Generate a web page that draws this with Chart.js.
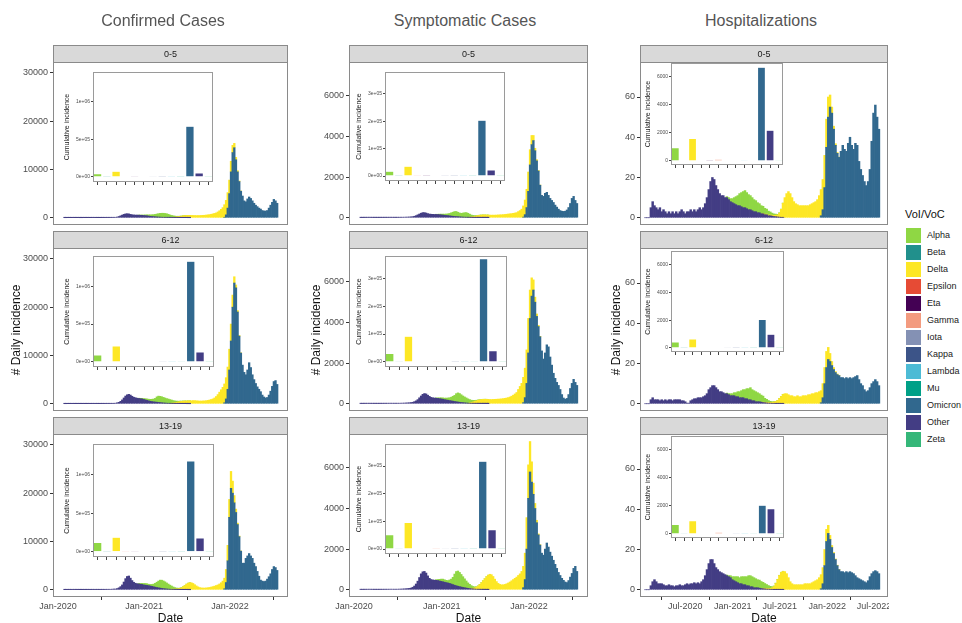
<!DOCTYPE html>
<html>
<head>
<meta charset="utf-8">
<script src="https://cdn.jsdelivr.net/npm/chart.js@4.4.1/dist/chart.umd.min.js"></script>
<style>
  body { margin: 0; background: #fff; font-family: "Liberation Sans", Arial, sans-serif; }
  #page { position: relative; width: 962px; height: 623px; overflow: hidden; }
  canvas { position: absolute; }
  .lbl { position: absolute; white-space: nowrap; }
</style>
</head>
<body>
<div id="page"></div>
<script>
// variants and colours (legend order)
const variants = ["Alpha", "Beta", "Delta", "Epsilon", "Eta", "Gamma", "Iota", "Kappa", "Lambda", "Mu", "Omicron", "Other", "Zeta"];
const variantColors = ["#8FD744", "#21908C", "#FDE725", "#E64B35", "#440154", "#F39B7F", "#8491B4", "#3C5488", "#4DBBD5", "#00A087", "#31688E", "#433D84", "#35B779"];

// weekly values; week 0 starts 28 days after 2020-01-01
const firstWeekDay = 28;
const otherStart = 0, alphaStart = 45, deltaStart = 65, omicronStart = 97;

const ageGroups = ["0-5", "6-12", "13-19"];
const columnTitles = ["Confirmed Cases", "Symptomatic Cases", "Hospitalizations"];

// x ticks (days since 2020-01-01)
const casesTickDays = [0, 366, 731];
const casesTickLabels = ["Jan-2020", "Jan-2021", "Jan-2022"];
const hospTickDays = [182, 366, 547, 731, 912];
const hospTickLabels = ["Jul-2020", "Jan-2021", "Jul-2021", "Jan-2022", "Jul-2022"];

// y ticks
const confTicks = [0, 10000, 20000, 30000];
const sympTicks = [0, 2000, 4000, 6000];
const hospTicks = [0, 20, 40, 60];
const confInsetTicks = [0, 500000, 1000000];
const confInsetLabels = ["0e+00", "5e+05", "1e+06"];
const sympInsetTicks = [0, 100000, 200000, 300000];
const sympInsetLabels = ["0e+00", "1e+05", "2e+05", "3e+05"];
const hospInsetTicks = [0, 2000, 4000, 6000];
const hospInsetLabels = ["0", "2000", "4000", "6000"];

// ---- Confirmed cases ----
const confOther05 = [10,10,15,20,20,25,20,15,15,10,10,10,15,15,20,20,25,30,30,25,20,20,25,30,35,40,45,50,60,70,80,
  100,150,250,400,550,700,800,830,800,700,620,580,560,550,540,520,500,470,440,400,350,300,260,230,200,170,150,130,110,100,90,80,70,60,50,45,40,35,30,25,20,18,15,12,10,8];
const confAlpha05 = [20,40,70,100,150,200,250,300,350,420,500,600,700,780,820,830,800,750,650,520,400,300,200,130,80,50,30,20,12,8,5,3];
const confDelta05 = [30,60,100,150,200,260,320,380,420,450,470,480,480,470,460,450,450,460,480,500,520,560,600,650,720,800,900,1000,1200,1450,1750,2100,2600,3000,3200,2800,2200,1500,900,500,250,120,50];
const confOmicron05 = [100,600,2000,5000,9500,13500,14500,12000,9500,7500,5500,4500,3500,3300,3900,4300,4000,3500,3000,2600,2300,2000,1800,1500,1400,1400,1500,2000,2600,3200,3800,3500,3000];

const confOther612 = [10,10,15,20,25,25,20,20,15,15,15,15,20,20,20,25,25,30,30,30,25,25,30,35,40,45,50,55,60,70,80,
  120,200,300,500,800,1200,1600,1850,1950,1800,1550,1350,1250,1150,1100,1050,1000,900,800,700,600,520,450,400,360,320,280,240,200,170,140,120,100,85,70,60,50,42,35,28,22,18,14,10,8,6];
const confAlpha612 = [50,80,120,180,250,300,350,400,480,580,750,1100,1300,1300,1250,1150,1050,950,880,780,650,500,350,250,150,100,60,40,25,15,10,5];
const confDelta612 = [50,100,180,260,340,420,480,520,550,560,580,600,620,650,650,620,580,560,560,580,600,640,700,780,880,1000,1200,1500,1900,2400,2900,3400,3900,4400,4600,4300,3500,2500,1300,600,300,150,50];
const confOmicron612 = [200,1000,3000,7000,13000,20000,25000,24000,19000,14000,10500,8000,6500,6000,7000,8500,7500,6000,5000,4200,3500,3000,2500,1800,1400,1200,1300,1800,2600,3600,4600,4800,4000];

const confOther1319 = [20,25,30,35,40,45,40,35,30,25,25,25,30,30,35,35,40,45,50,50,45,45,50,55,60,70,80,90,100,120,150,
  150,250,400,650,1000,1600,2300,2750,2850,2400,1900,1550,1350,1250,1200,1150,1100,1000,950,900,850,780,700,620,540,460,400,340,280,230,190,160,130,110,90,75,60,50,40,32,25,20,15,12,9,6];
const confAlpha1319 = [100,150,220,300,350,350,300,320,400,550,800,1100,1400,1650,1700,1600,1450,1250,1050,850,650,450,300,180,100,60,35,20,12,8,5,3];
const confDelta1319 = [30,50,80,120,180,260,400,600,850,1150,1350,1450,1450,1300,1050,800,600,450,380,350,350,380,420,480,560,650,750,880,1000,1200,1450,1800,2200,2700,3200,3700,3500,2500,1500,700,300,120,40];
const confOmicron1319 = [200,1500,6000,15000,21000,20000,18000,16000,13500,11000,8000,5500,5500,6500,7000,7500,7000,6500,5500,4800,3800,2800,2000,1800,1700,1800,2200,2700,3300,4200,4800,4600,4000];

// ---- Symptomatic cases ----
const sympOther05 = [5,5,8,10,12,15,12,10,8,8,8,8,10,10,10,12,12,15,15,15,12,12,15,18,20,22,25,28,30,35,40,
  50,70,100,140,180,220,250,250,230,200,180,170,165,160,160,155,150,140,130,120,110,100,90,80,70,62,55,48,42,36,30,26,22,18,15,12,10,8,7,6,5,4,3,3,2,2];
const sympAlpha05 = [10,15,25,35,45,55,70,90,120,160,200,240,250,220,190,180,200,220,230,200,150,100,60,35,20,12,8,5,3,2,1,1];
const sympDelta05 = [10,20,40,60,80,100,115,125,130,130,130,130,125,125,125,125,130,135,140,145,150,160,170,180,190,200,215,230,250,300,350,420,550,720,900,950,750,450,250,120,60,30,10];
const sympOmicron05 = [30,150,500,1300,2600,3600,3800,3300,2800,2300,1600,1100,1050,1200,1250,1100,950,850,750,620,520,420,350,320,310,320,380,500,700,950,1050,850,700];

const sympOther612 = [8,8,10,12,15,15,12,12,10,10,10,10,12,12,15,15,18,20,20,20,18,18,20,22,25,28,30,35,40,45,55,
  70,100,140,200,290,380,460,500,480,420,360,310,290,280,270,260,250,235,220,200,185,170,155,140,125,110,95,82,70,60,50,42,35,28,22,18,15,12,10,8,6,5,4,3,2,2];
const sympAlpha612 = [15,25,40,55,65,75,90,110,140,180,240,300,400,450,430,380,330,290,250,210,160,115,80,50,30,18,10,6,4,3,2,1];
const sympDelta612 = [20,40,70,100,130,160,185,200,210,215,215,210,205,205,210,215,220,225,230,240,250,265,280,300,330,370,420,480,550,700,850,1000,1250,1450,1650,1700,1400,900,500,250,120,60,20];
const sympOmicron612 = [50,300,1000,2500,4200,5300,5600,5000,4300,3800,3300,2600,2200,2500,2900,2800,2300,1900,1500,1250,1050,900,700,450,280,220,260,450,750,1000,1200,1050,900];

const sympOther1319 = [10,10,12,15,18,20,18,15,12,12,12,12,15,15,18,18,20,22,25,25,22,22,25,28,30,35,40,45,55,65,80,
  120,180,280,420,600,780,880,900,820,680,560,500,480,470,460,450,430,410,390,370,350,330,310,280,250,220,195,170,150,130,110,95,80,65,55,45,38,30,24,19,15,12,9,7,5,4];
const sympAlpha1319 = [30,50,80,110,130,120,110,120,170,240,360,550,700,750,700,620,530,440,350,270,200,135,85,50,25,12,8,5,3,2,1,1];
const sympDelta1319 = [10,20,35,60,100,160,240,330,430,530,630,710,760,740,650,520,400,310,260,240,240,260,290,330,380,440,500,560,620,700,780,900,1050,1300,1550,1650,1500,1000,550,250,120,50,20];
const sympOmicron1319 = [100,500,2000,4500,5800,5300,4700,4000,3300,2700,2200,1800,1700,2000,2300,2100,1850,1650,1450,1250,1050,850,700,560,460,380,350,450,620,800,1050,1150,900];

// ---- Hospitalizations ----
const hospOther05 = [0,0,0,5,8,6,5,4,5,3,4,3,2,3,2,3,2,3,2,3,4,3,2,3,3,4,3,4,3,4,5,
  4,5,7,10,14,18,20,19,16,14,12,11,11,10,10,9,8,7.5,7,6.5,6,6,5.5,5,5,4.5,4,4,3.5,3,3,2.5,2.5,2,2,1.5,1.5,1,1,0.8,0.6,0.5,0.4,0.3,0.2,0.2];
const hospAlpha05 = [0.5,1,1.5,2,3,4,5,6,7,8,8.5,8,7.5,7,6.5,6,5.5,5,4.5,4,3.5,3,2.5,2,1.5,1,0.7,0.5,0.3,0.2,0.1,0.1];
const hospDelta05 = [0.2,0.2,0.3,0.3,0.4,0.5,0.6,0.8,1,2,4,7,10,12,13,12,10,8,7,6.5,6,6,6,6,6,6,6.5,7,7.5,8,9,11,13,15,16,14,10,6,3,1.5,0.8,0.4,0.2];
const hospOmicron05 = [1,4,15,35,50,55,52,44,36,32,30,33,36,34,33,37,40,36,34,37,36,28,24,21,18,16,18,24,38,52,56,50,44];

const hospOther612 = [0,0,0,2,3,2,2,2,1.5,2,1.5,2,1.5,2,2,1.5,2,2,2,2,1.5,1.5,1,0.3,0.3,1.5,2,2.5,2.5,3,3,
  3,3.5,4,5,7,8,9,9,8,7,6,6,5.5,5,5,4.5,4,4,4,3.5,3.5,3,3,3,2.5,2.5,2,2,1.5,1.5,1,1,1,0.8,0.6,0.5,0.4,0.3,0.3,0.2,0.2,0.1,0.1,0.1,0.1,0.1];
const hospAlpha612 = [0.3,0.5,1,1,1.5,2,2.5,3,3.5,4,4.5,5,5.5,6,5.5,5,5,4.5,4,3.5,3,2,1.5,1,0.5,0.3,0.2,0.1,0.1,0.1,0.1,0.1];
const hospDelta612 = [0.2,0.2,0.3,0.3,0.4,0.5,0.7,1,1.5,2.5,3.5,4.5,5,5,4.5,4,4,3.5,3.5,4,3.5,3.5,4,4,4,4.5,4.5,5,5,5.5,5.5,6,6,7,8,8,6,4,2,1,0.5,0.3,0.1];
const hospOmicron612 = [0.5,3,10,18,22,21,19,17,15.5,14.5,14,13,13,12.5,13,12.5,13,12.5,13,13.5,14,12,10,9,7,6,6.5,8,10,11,12,11,9];

const hospOther1319 = [0,0,0,2,4,5,4,3,3,3,2.5,2,2,2.5,2,2,1.5,2,2,2.5,2,2,2.5,3,2.5,3,3,3.5,3,3.5,3,
  4,5,7,10,13,15,15,13,11,10,9,8.5,8,7.5,7,6.5,6,5,4.5,4,3.5,3,3,2.5,2.5,2,2,1.5,1.5,1,1,1,0.8,0.6,0.5,0.4,0.3,0.3,0.2,0.2,0.1,0.1,0.1,0.1,0.1,0.1];
const hospAlpha1319 = [0.3,0.5,1,1.5,2,2.5,3,3,3.5,4,4,4.5,5,5.5,5,5,4.5,4,4,3.5,3,2.5,2,1.5,1,0.5,0.3,0.2,0.1,0.1,0.1,0.1];
const hospDelta1319 = [0.2,0.2,0.3,0.3,0.5,0.8,1.5,3,5,7,8.5,9,9,8,6,4,3,2.5,2.5,2.5,2.5,2.5,2.5,3,3,3,3,3.5,4,4.5,5,6,7,8,8,6,4,2,1,0.5,0.3,0.2,0.1];
const hospOmicron1319 = [0.5,3,12,24,28,25,21,18,15,12,10,9,9,8.5,9,8.5,9,8.5,8,7,6,5.5,5,4.5,4,3.5,4.5,6.5,8,9,9.5,9,8];

// ---- cumulative incidence per variant (inset bars, legend order) ----
const confCum05 = [44000,1000,76000,3000,1500,6000,2000,500,300,800,675000,53000,200];
const confCum612 = [90000,1500,210000,4000,2000,8000,2500,800,400,1000,1330000,130000,300];
const confCum1319 = [120000,2000,190000,5000,3000,10000,3000,1000,500,1200,1180000,180000,400];
const sympCum05 = [18000,300,36000,800,600,1500,500,200,100,300,204000,22000,100];
const sympCum612 = [30000,500,92000,1200,1000,3000,800,300,200,400,370000,40000,100];
const sympCum1319 = [52000,700,96000,1500,1500,4000,1000,400,200,500,318000,70000,200];
const hospCum05 = [950,10,1600,30,60,120,20,10,5,10,6700,2200,5];
const hospCum612 = [430,5,650,20,30,40,10,5,2,5,2050,1000,2];
const hospCum1319 = [680,8,950,25,40,120,15,8,3,8,2050,1800,3];

// ---- layout ----
const colLeft = [53, 349, 640];
const colRight = [288, 588, 888];
const rowStrip = [45, 231, 417];
const rowTop = [62, 248, 434];
const rowBottom = [225, 411, 597];
const insetBox = [
  [[93, 72, 213, 182], [93, 256, 214, 367], [93, 444, 214, 557]],
  [[385, 72, 505, 181], [385, 256, 507, 367], [385, 444, 506, 554]],
  [[671, 63, 783, 165], [671, 251, 784, 352], [671, 436, 784, 538]]
];

const columns = [
  {
    yMin: -1500, yMax: 32250, yTicks: confTicks, xMin: -21, xMax: 977,
    tickDays: casesTickDays, tickLabels: casesTickLabels,
    insetMin: -67000, insetMax: 1400000, insetTicks: confInsetTicks, insetLabels: confInsetLabels, insetAxisW: 30,
    panels: [
      [confOther05, confAlpha05, confDelta05, confOmicron05, confCum05],
      [confOther612, confAlpha612, confDelta612, confOmicron612, confCum612],
      [confOther1319, confAlpha1319, confDelta1319, confOmicron1319, confCum1319]
    ]
  },
  {
    yMin: -360, yMax: 7670, yTicks: sympTicks, xMin: -21, xMax: 977,
    tickDays: casesTickDays, tickLabels: casesTickLabels,
    insetMin: -18000, insetMax: 380000, insetTicks: sympInsetTicks, insetLabels: sympInsetLabels, insetAxisW: 30,
    panels: [
      [sympOther05, sympAlpha05, sympDelta05, sympOmicron05, sympCum05],
      [sympOther612, sympAlpha612, sympDelta612, sympOmicron612, sympCum612],
      [sympOther1319, sympAlpha1319, sympDelta1319, sympOmicron1319, sympCum1319]
    ]
  },
  {
    yMin: -3.6, yMax: 77.4, yTicks: hospTicks, xMin: 7, xMax: 966,
    tickDays: hospTickDays, tickLabels: hospTickLabels,
    insetMin: -290, insetMax: 7000, insetTicks: hospInsetTicks, insetLabels: hospInsetLabels, insetAxisW: 27,
    panels: [
      [hospOther05, hospAlpha05, hospDelta05, hospOmicron05, hospCum05],
      [hospOther612, hospAlpha612, hospDelta612, hospOmicron612, hospCum612],
      [hospOther1319, hospAlpha1319, hospDelta1319, hospOmicron1319, hospCum1319]
    ]
  }
];

const FONT = '"Liberation Sans", Arial, sans-serif';
Chart.defaults.font.family = FONT;
const page = document.getElementById("page");

function colorOf(name) {
  return variantColors[variants.indexOf(name)];
}

function weekSeries(values, start) {
  return values.map((v, i) => ({ x: firstWeekDay + 7 * (start + i), y: v }));
}

function addCanvas(left, top, width, height) {
  const c = document.createElement("canvas");
  c.width = width;
  c.height = height;
  c.style.left = left + "px";
  c.style.top = top + "px";
  c.style.width = width + "px";
  c.style.height = height + "px";
  page.appendChild(c);
  return c.getContext("2d");
}

function addLabel(text, x, y, css, rotate) {
  const d = document.createElement("div");
  d.className = "lbl";
  d.textContent = text;
  d.style.cssText += css;
  d.style.left = x + "px";
  d.style.top = y + "px";
  d.style.transform = "translate(-50%,-50%)" + (rotate ? " rotate(-90deg)" : "");
  page.appendChild(d);
}

// frame, strip and white background drawn around the chart area
const panelFrame = {
  id: "panelFrame",
  beforeDatasetsDraw(chart, args, opts) {
    if (!opts.fill) return;
    const { ctx, chartArea: a } = chart;
    ctx.save();
    ctx.fillStyle = "#ffffff";
    ctx.fillRect(a.left, a.top, a.right - a.left, a.bottom - a.top);
    ctx.restore();
  },
  afterDraw(chart, args, opts) {
    const { ctx, chartArea: a } = chart;
    ctx.save();
    ctx.strokeStyle = opts.color || "#8a8a8a";
    ctx.lineWidth = 1;
    ctx.strokeRect(a.left + 0.5, a.top + 0.5, a.right - a.left - 1, a.bottom - a.top - 1);
    if (opts.strip) {
      const h = opts.stripH;
      ctx.fillStyle = "#d9d9d9";
      ctx.fillRect(a.left, a.top - h, a.right - a.left, h);
      ctx.strokeRect(a.left + 0.5, a.top - h + 0.5, a.right - a.left - 1, h);
      ctx.fillStyle = "#1a1a1a";
      ctx.font = "9px " + FONT;
      ctx.textAlign = "center";
      ctx.textBaseline = "middle";
      ctx.fillText(opts.strip, (a.left + a.right) / 2, a.top - h / 2 + 1);
    }
    ctx.restore();
  }
};

const axisW = 50;

function drawPanel(col, row) {
  const cfg = columns[col];
  const [other, alpha, delta, omicron] = cfg.panels[row];
  const showX = row === 2;
  const left = colLeft[col] - axisW;
  const top = rowStrip[row];
  const width = colRight[col] - left + 1;
  const height = rowBottom[row] - top + (showX ? 15 : 1);
  const ctx = addCanvas(left, top, width, height);

  const mk = (label, values, start) => ({
    label,
    data: weekSeries(values, start),
    backgroundColor: colorOf(label),
    borderWidth: 0,
    barPercentage: 1,
    categoryPercentage: 1
  });

  new Chart(ctx, {
    type: "bar",
    data: {
      datasets: [
        mk("Other", other, otherStart),
        mk("Omicron", omicron, omicronStart),
        mk("Delta", delta, deltaStart),
        mk("Alpha", alpha, alphaStart)
      ]
    },
    options: {
      responsive: false,
      animation: false,
      devicePixelRatio: 1,
      layout: { padding: { top: rowTop[row] - rowStrip[row], right: 1, bottom: showX ? 0 : 1, left: 0 } },
      plugins: {
        legend: { display: false },
        tooltip: { enabled: false },
        panelFrame: { strip: ageGroups[row], stripH: rowTop[row] - rowStrip[row] }
      },
      scales: {
        x: {
          type: "linear",
          stacked: true,
          offset: false,
          min: cfg.xMin,
          max: cfg.xMax,
          display: showX,
          border: { display: false },
          grid: { display: true, drawOnChartArea: false, drawTicks: true, tickLength: 3, color: "#333" },
          ticks: {
            color: "#4d4d4d",
            font: { size: 9 },
            padding: 1,
            maxRotation: 0,
            autoSkip: false,
            callback: (v) => cfg.tickLabels[cfg.tickDays.indexOf(v)]
          },
          afterBuildTicks: (s) => { s.ticks = cfg.tickDays.map((v) => ({ value: v })); },
          afterFit: (s) => { s.height = showX ? 15 : 0; s.paddingLeft = 0; s.paddingRight = 0; }
        },
        y: {
          stacked: true,
          min: cfg.yMin,
          max: cfg.yMax,
          border: { display: false },
          grid: { display: true, drawOnChartArea: false, drawTicks: true, tickLength: 3, color: "#333" },
          ticks: { color: "#4d4d4d", font: { size: 9 }, padding: 2, callback: (v) => String(v) },
          afterBuildTicks: (s) => { s.ticks = cfg.yTicks.map((v) => ({ value: v })); },
          afterFit: (s) => { s.width = axisW; s.paddingTop = 0; s.paddingBottom = 0; }
        }
      }
    },
    plugins: [panelFrame]
  });
}

function drawInset(col, row) {
  const cfg = columns[col];
  const cum = cfg.panels[row][4];
  const box = insetBox[col][row];
  const left = box[0] - cfg.insetAxisW;
  const top = box[1] - 1;
  const width = box[2] - left + 1;
  const height = box[3] - top + 5;
  const ctx = addCanvas(left, top, width, height);

  new Chart(ctx, {
    type: "bar",
    data: {
      labels: variants,
      datasets: [{
        data: cum,
        backgroundColor: variantColors,
        borderColor: "rgba(255,255,255,0.5)",
        borderWidth: 0.5,
        barPercentage: 0.9,
        categoryPercentage: 1
      }]
    },
    options: {
      responsive: false,
      animation: false,
      devicePixelRatio: 1,
      layout: { padding: { top: 1, right: 1, bottom: 0, left: 0 } },
      plugins: {
        legend: { display: false },
        tooltip: { enabled: false },
        panelFrame: { fill: true, color: "#9a9a9a" }
      },
      scales: {
        x: {
          offset: true,
          border: { display: false },
          grid: { display: true, offset: false, drawOnChartArea: false, drawTicks: true, tickLength: 3, color: "#444" },
          ticks: { display: false, autoSkip: false },
          afterFit: (s) => { s.height = 5; s.paddingLeft = 0; s.paddingRight = 0; }
        },
        y: {
          min: cfg.insetMin,
          max: cfg.insetMax,
          border: { display: false },
          grid: { display: true, drawOnChartArea: false, drawTicks: true, tickLength: 2, color: "#444" },
          ticks: {
            color: "#4d4d4d",
            font: { size: 5 },
            padding: 1,
            callback: (v) => cfg.insetLabels[cfg.insetTicks.indexOf(v)]
          },
          title: { display: true, text: "Cumulative incidence", color: "#1a1a1a", font: { size: 7 }, padding: 0 },
          afterBuildTicks: (s) => { s.ticks = cfg.insetTicks.map((v) => ({ value: v })); },
          afterFit: (s) => { s.width = cfg.insetAxisW; s.paddingTop = 0; s.paddingBottom = 0; }
        }
      }
    },
    plugins: [panelFrame]
  });
}

for (let c = 0; c < 3; c++) {
  for (let r = 0; r < 3; r++) drawPanel(c, r);
}
for (let c = 0; c < 3; c++) {
  for (let r = 0; r < 3; r++) drawInset(c, r);
}

// titles and axis labels
const titleX = [163, 465, 761];
const yTitleX = [16, 316, 616];
columnTitles.forEach((t, i) => {
  addLabel(t, titleX[i], 21, "font-size:16px;color:#555;");
  addLabel("# Daily incidence", yTitleX[i], 330, "font-size:12px;color:#111;", true);
  addLabel("Date", (colLeft[i] + colRight[i]) / 2, 618, "font-size:12px;color:#111;");
});

// legend
const legendTitle = document.createElement("div");
legendTitle.className = "lbl";
legendTitle.textContent = "VoI/VoC";
legendTitle.style.cssText += "left:905px;top:208px;font-size:11px;color:#111;";
page.appendChild(legendTitle);
variants.forEach((name, i) => {
  const key = document.createElement("div");
  key.style.cssText = `position:absolute;left:906px;top:${228 + 17 * i}px;width:15px;height:15px;background:${variantColors[i]};`;
  page.appendChild(key);
  const t = document.createElement("div");
  t.className = "lbl";
  t.textContent = name;
  t.style.cssText += `left:927px;top:${229 + 17 * i}px;font-size:9px;line-height:13px;color:#222;`;
  page.appendChild(t);
});
</script>
</body>
</html>
